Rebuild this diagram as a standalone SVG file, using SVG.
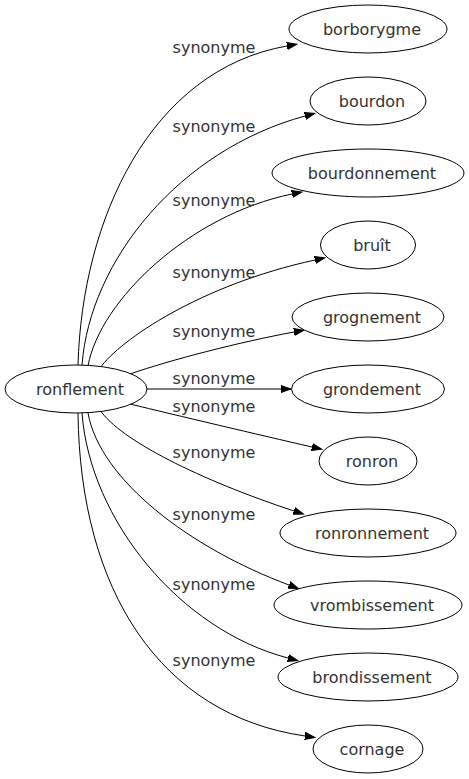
<svg xmlns="http://www.w3.org/2000/svg" width="469" height="779" viewBox="0 0 469 779">
<style>
.node ellipse{fill:#fff;stroke:#000;stroke-width:1}
text{font-family:"DejaVu Sans","Liberation Sans",sans-serif;font-size:16px;fill:#333}
.node text{text-anchor:middle}
.edges path{fill:none;stroke:#000;stroke-width:1;marker-end:url(#arr)}
.lbl{text-anchor:middle}
</style>
<defs>
<marker id="arr" markerUnits="userSpaceOnUse" markerWidth="12" markerHeight="10" refX="0" refY="4" orient="auto" viewBox="0 -1 12 10">
<path d="M0,0.5 L10,4 L0,7.5 Z" fill="#000" stroke="#000" stroke-width="1"/>
</marker>
</defs>
<rect width="469" height="779" fill="#fff"/>
<g class="edges" id="edges">
<path d="M78,365 C82,220 150,70 287,46"/>
<path d="M82,365 C90,260 180,150 305,116"/>
<path d="M88,366 C100,300 190,215 292,194"/>
<path d="M100,368 C120,340 200,285 315,260"/>
<path d="M130,374 C170,360 240,342 294,332"/>
<path d="M147,389 L281,389"/>
<path d="M130,404 C175,415 260,435 312,447"/>
<path d="M100,410 C120,440 200,480 294,511"/>
<path d="M88,413 C100,480 190,548 289,585"/>
<path d="M82,413 C90,520 180,630 288,658"/>
<path d="M78,413 C80,590 160,715 305,736"/>
<text class="lbl" x="214" y="53">synonyme</text>
<text class="lbl" x="214" y="132">synonyme</text>
<text class="lbl" x="214" y="206">synonyme</text>
<text class="lbl" x="214" y="278">synonyme</text>
<text class="lbl" x="214" y="337">synonyme</text>
<text class="lbl" x="214" y="384">synonyme</text>
<text class="lbl" x="214" y="412">synonyme</text>
<text class="lbl" x="214" y="458">synonyme</text>
<text class="lbl" x="214" y="520">synonyme</text>
<text class="lbl" x="214" y="590">synonyme</text>
<text class="lbl" x="214" y="666">synonyme</text>
</g>
<g class="node" id="n-ronflement"><ellipse cx="76" cy="389" rx="71" ry="24"/><text x="80" y="395">ronflement</text></g>
<g class="node" id="n-borborygme"><ellipse cx="368" cy="29" rx="79" ry="24"/><text x="372" y="35">borborygme</text></g>
<g class="node" id="n-bourdon"><ellipse cx="368" cy="101" rx="58" ry="24"/><text x="372" y="107">bourdon</text></g>
<g class="node" id="n-bourdonnement"><ellipse cx="368" cy="173" rx="96" ry="24"/><text x="372" y="179">bourdonnement</text></g>
<g class="node" id="n-bruit"><ellipse cx="368" cy="245" rx="47.5" ry="24"/><text x="372" y="251">bruît</text></g>
<g class="node" id="n-grognement"><ellipse cx="368" cy="317" rx="76" ry="24"/><text x="372" y="323">grognement</text></g>
<g class="node" id="n-grondement"><ellipse cx="368" cy="389" rx="76.5" ry="24"/><text x="372" y="395">grondement</text></g>
<g class="node" id="n-ronron"><ellipse cx="368" cy="461" rx="49" ry="24"/><text x="372" y="467">ronron</text></g>
<g class="node" id="n-ronronnement"><ellipse cx="368" cy="533" rx="88" ry="24"/><text x="372" y="539">ronronnement</text></g>
<g class="node" id="n-vrombissement"><ellipse cx="368" cy="605" rx="94" ry="24"/><text x="372" y="611">vrombissement</text></g>
<g class="node" id="n-brondissement"><ellipse cx="368" cy="677" rx="90" ry="24"/><text x="372" y="683">brondissement</text></g>
<g class="node" id="n-cornage"><ellipse cx="368" cy="749" rx="55" ry="24"/><text x="372" y="755">cornage</text></g>
</svg>
